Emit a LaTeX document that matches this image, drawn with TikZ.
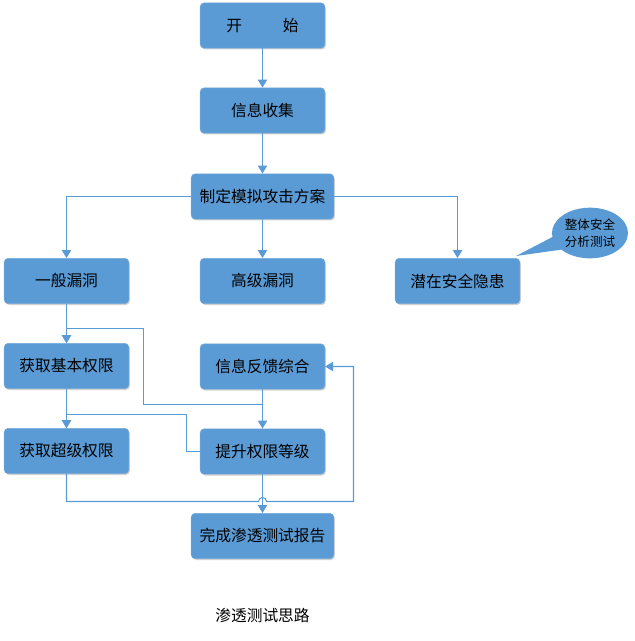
\documentclass[tikz,border=0pt]{standalone}
\usepackage{fontspec}
\newfontfamily\cjk{Noto Sans CJK SC}
\usetikzlibrary{arrows.meta,shadows,shapes.callouts,calc}
\definecolor{boxblue}{HTML}{5B9BD5}
\definecolor{linkblue}{HTML}{5B9BD5}
\begin{document}
\begin{tikzpicture}[x=0.75pt,y=-0.75pt,
  stepbox/.style={rectangle, rounded corners=3pt, fill=boxblue, draw=boxblue!85!white,
    minimum width=93.5pt, minimum height=34pt, inner sep=0pt,
    font=\cjk\fontsize{11.8}{14}\selectfont, text=black,
    drop shadow={shadow xshift=0.8pt, shadow yshift=-1pt, opacity=0.3, fill=black!60}},
  widebox/.style={stepbox, minimum width=107pt},
  link/.style={draw=linkblue, line width=0.8pt},
  arr/.style={link, -{Triangle[width=7pt,length=6pt]}}]
\useasboundingbox (0,0) rectangle (634,641);

\node[stepbox] (start) at (262.5,25.5) {开\hspace{2.6em}始};
\node[stepbox] (collect) at (262.5,110.5) {信息收集};
\node[widebox] (plan) at (262.5,196.5) {制定模拟攻击方案};
\node[stepbox] (gen) at (66.5,281) {一般漏洞};
\node[stepbox] (adv) at (262.5,281) {高级漏洞};
\node[stepbox] (pot) at (457.5,281) {潜在安全隐患};
\node[stepbox] (basic) at (66.5,366) {获取基本权限};
\node[stepbox] (feed) at (262.5,366.5) {信息反馈综合};
\node[stepbox] (super) at (66.5,451) {获取超级权限};
\node[stepbox] (raise) at (262.5,451.5) {提升权限等级};
\node[widebox] (report) at (262.5,536) {完成渗透测试报告};

\node[ellipse callout, fill=boxblue, minimum width=57pt, minimum height=38pt, inner sep=0pt,
  callout absolute pointer={(516,256)}, callout pointer arc=32,
  align=center, font=\cjk\fontsize{9.4}{12.8}\selectfont, text=black]
  (bub) at (590,233) {整体安全\\分析测试};

\node[font=\cjk\fontsize{11.8}{14}\selectfont, text=black] (cap) at (262.5,615) {渗透测试思路};

\draw[arr] (start) -- (collect);
\draw[arr] (collect) -- (plan);
\draw[arr] (plan.west) -| (gen.north);
\draw[arr] (plan) -- (adv);
\draw[arr] (plan.east) -| (pot.north);
\draw[arr] (gen) -- (basic);
\draw[arr] (feed) -- (raise);
\coordinate (f1) at (262.5,404.5);
\coordinate (f2) at (143.5,328.5);
\draw[arr] (feed.south) -- (f1) -| (f2) -| (basic.north);
\draw[arr] (basic) -- (super);
\coordinate (r1) at (186.5,414.5);
\draw[arr] (raise.west) -| (r1) -| (super.north);
\draw[arr] (raise) -- (report);
\coordinate (s1) at (66.5,501.5);
\coordinate (s2) at (258.5,501.5);
\coordinate (s3) at (353.5,501.5);
\draw[arr] (super.south) -- (s1) -- (s2) arc[start angle=180,end angle=0,radius=3pt] -- (s3) |- (feed.east);
\end{tikzpicture}
\end{document}
